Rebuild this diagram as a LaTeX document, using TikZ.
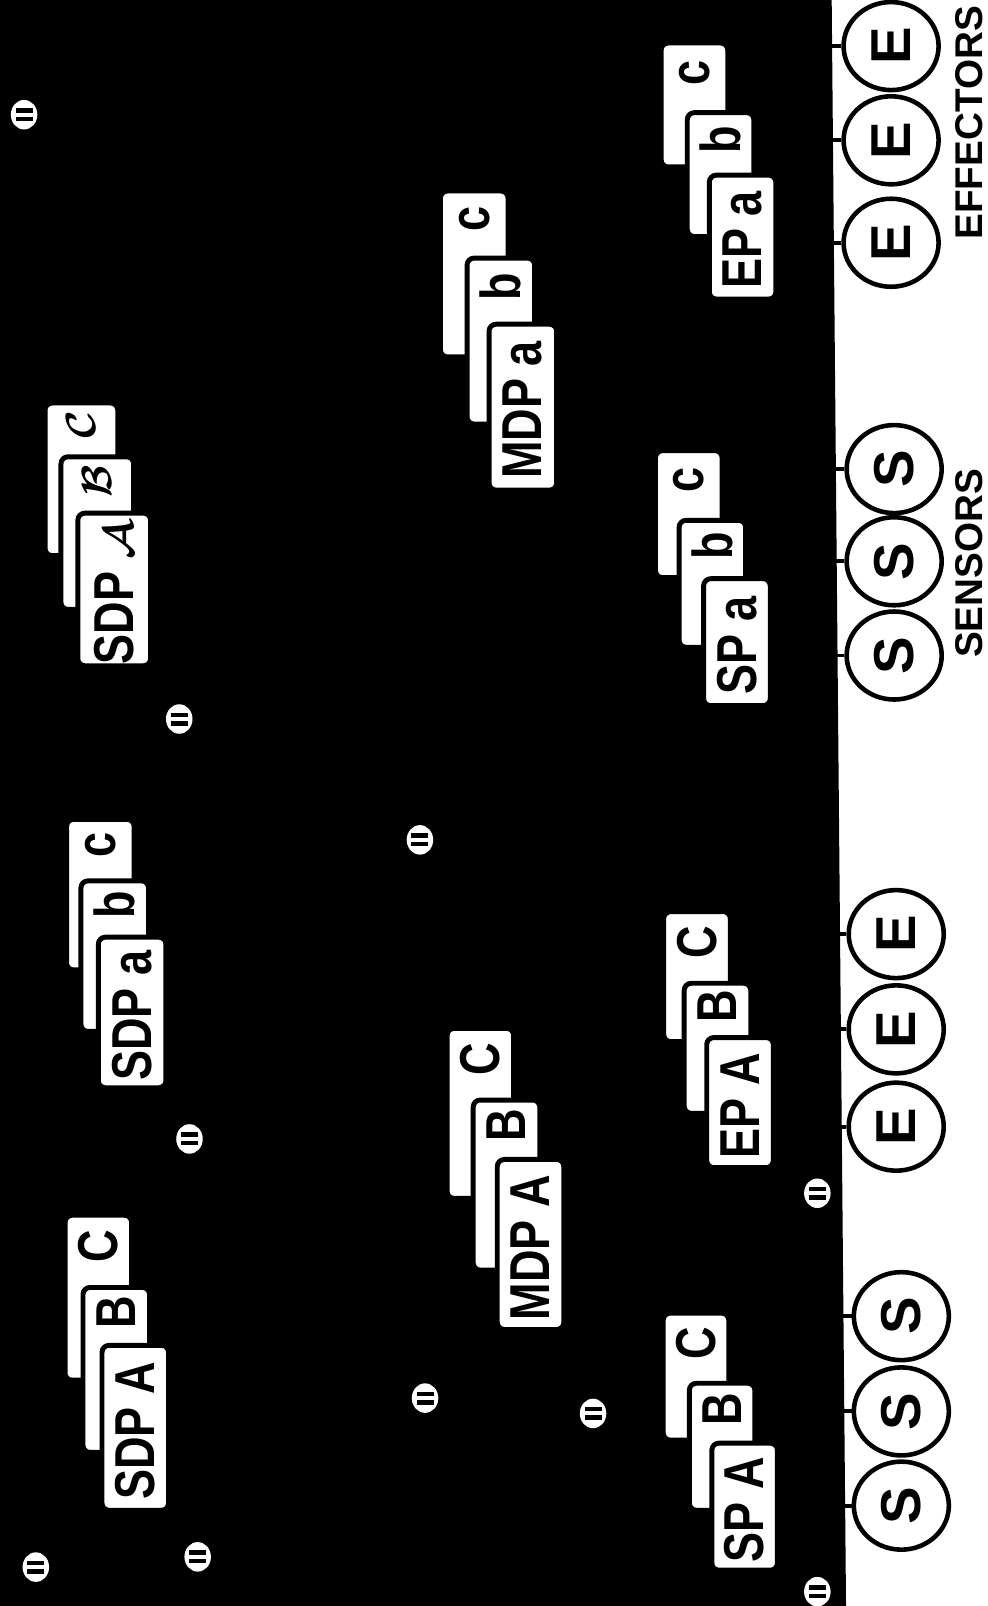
\documentclass[tikz,border=0pt]{standalone}
\usepackage{fontspec}
\setmainfont{Liberation Sans}
\newfontfamily\tabfont[FakeStretch=0.8]{Liberation Sans}
\usepackage{amsmath}
\usetikzlibrary{shapes.geometric}
\newcommand{\eqbars}{\vbox{\hrule width 1.7mm height 0.45mm \vskip 0.4mm \hrule width 1.7mm height 0.45mm}}
\newcommand{\calab}[1]{{\fontsize{12}{12}\selectfont$\boldsymbol{\mathcal{#1}}$}}

\begin{document}
\begin{tikzpicture}[x=0.1024mm, y=-0.1024mm,
  card/.style={fill=white, draw=black, line width=1.4pt, rounded corners=2pt},
  tablabel/.style={rotate=90, inner sep=0pt,
                   font=\tabfont\fontsize{16}{16}\selectfont\bfseries},
  unit/.style={ellipse, draw=black, fill=white, line width=1.3pt, rotate=90,
               minimum width=8.8mm, minimum height=9.5mm, inner sep=0pt,
               font=\fontsize{16}{16}\selectfont\bfseries},
  stub/.style={line width=1.1pt},
  grouplabel/.style={rotate=90, inner sep=0pt, font=\fontsize{11}{11}\selectfont\bfseries},
  eqmark/.style={ellipse, fill=white, minimum width=2.65mm, minimum height=2.95mm,
                 inner sep=0pt}]
\useasboundingbox (0,0) rectangle (964,1568);
\fill (0,0) -- (812,0) -- (826,1568) -- (0,1568) -- cycle;

% tab groups: back, middle, front card
\foreach \xb/\yb/\xm/\ym/\xf/\yf/\w/\h/\lb/\lm/\lf [count=\i] in {
    63.5/1186.5/81/1257/99.6/1313.5/65/161/C/B/SDP A,
    436.5/1004/462/1074/485.5/1132/65/166/C/B/MDP A,
    647.5/1282/673/1350.5/695/1409/64/124/C/B/SP A,
    65/800/79/860/96/915/66/147/c/b/SDP a,
    648/890/668/960/690/1013/65/127/C/B/EP A,
    44/393.5/59.5/446/76/501/71/149/{\calab{C}}/{\calab{B}}/{SDP \calab{A}},
    645.5/42/671/110/692.5/171/65/121/c/b/EP a,
    430/186.5/456/252/477.5/316.5/66/162/c/b/MDP a,
    640/440/663/508/687/565/65/124/c/b/SP a} {
  \draw[card] (\xb,\yb) rectangle ++(\w,\h);
  \node[tablabel] (back\i) at ({\xb+\w/2},{(\yb+\ym)/2-5}) {\lb};
  \draw[card] (\xm,\ym) rectangle ++(\w,\h);
  \node[tablabel] (mid\i) at ({\xm+\w/2},{(\ym+\yf)/2-4}) {\lm};
  \draw[card] (\xf,\yf) rectangle ++(\w,\h);
  \node[tablabel] (front\i) at ({\xf+\w/2},{\yf+\h/2+3}) {\lf};
}

% sensors and effectors on the edge of the board
\foreach \n/\t/\x/\y in {e1/E/870/45, e2/E/870/137, e3/E/870/237,
    s1/S/873/458, s2/S/873/548, s3/S/873/640,
    e4/E/875/912, e5/E/875/1005, e6/E/875/1100,
    s4/S/880/1285, s5/S/880/1378, s6/S/880/1470} {
  \node[unit] (\n) at (\x,\y) {\t};
  \coordinate (b-\n) at ({810+\y/112},\y);
  \draw[stub] (b-\n) -- (\n);
}
\node[grouplabel] (effectors) at (946,120) {EFFECTORS};
\node[grouplabel] (sensors) at (946,550) {SENSORS};

% small marks
\foreach \x/\y [count=\k] in {23.5/112, 175/702, 410/820, 185/1112, 798/1165,
    415/1365, 579/1380, 35/1530, 193/1520, 798/1554}
  \node[eqmark] (eq\k) at (\x,\y) {\eqbars};
\end{tikzpicture}
\end{document}
